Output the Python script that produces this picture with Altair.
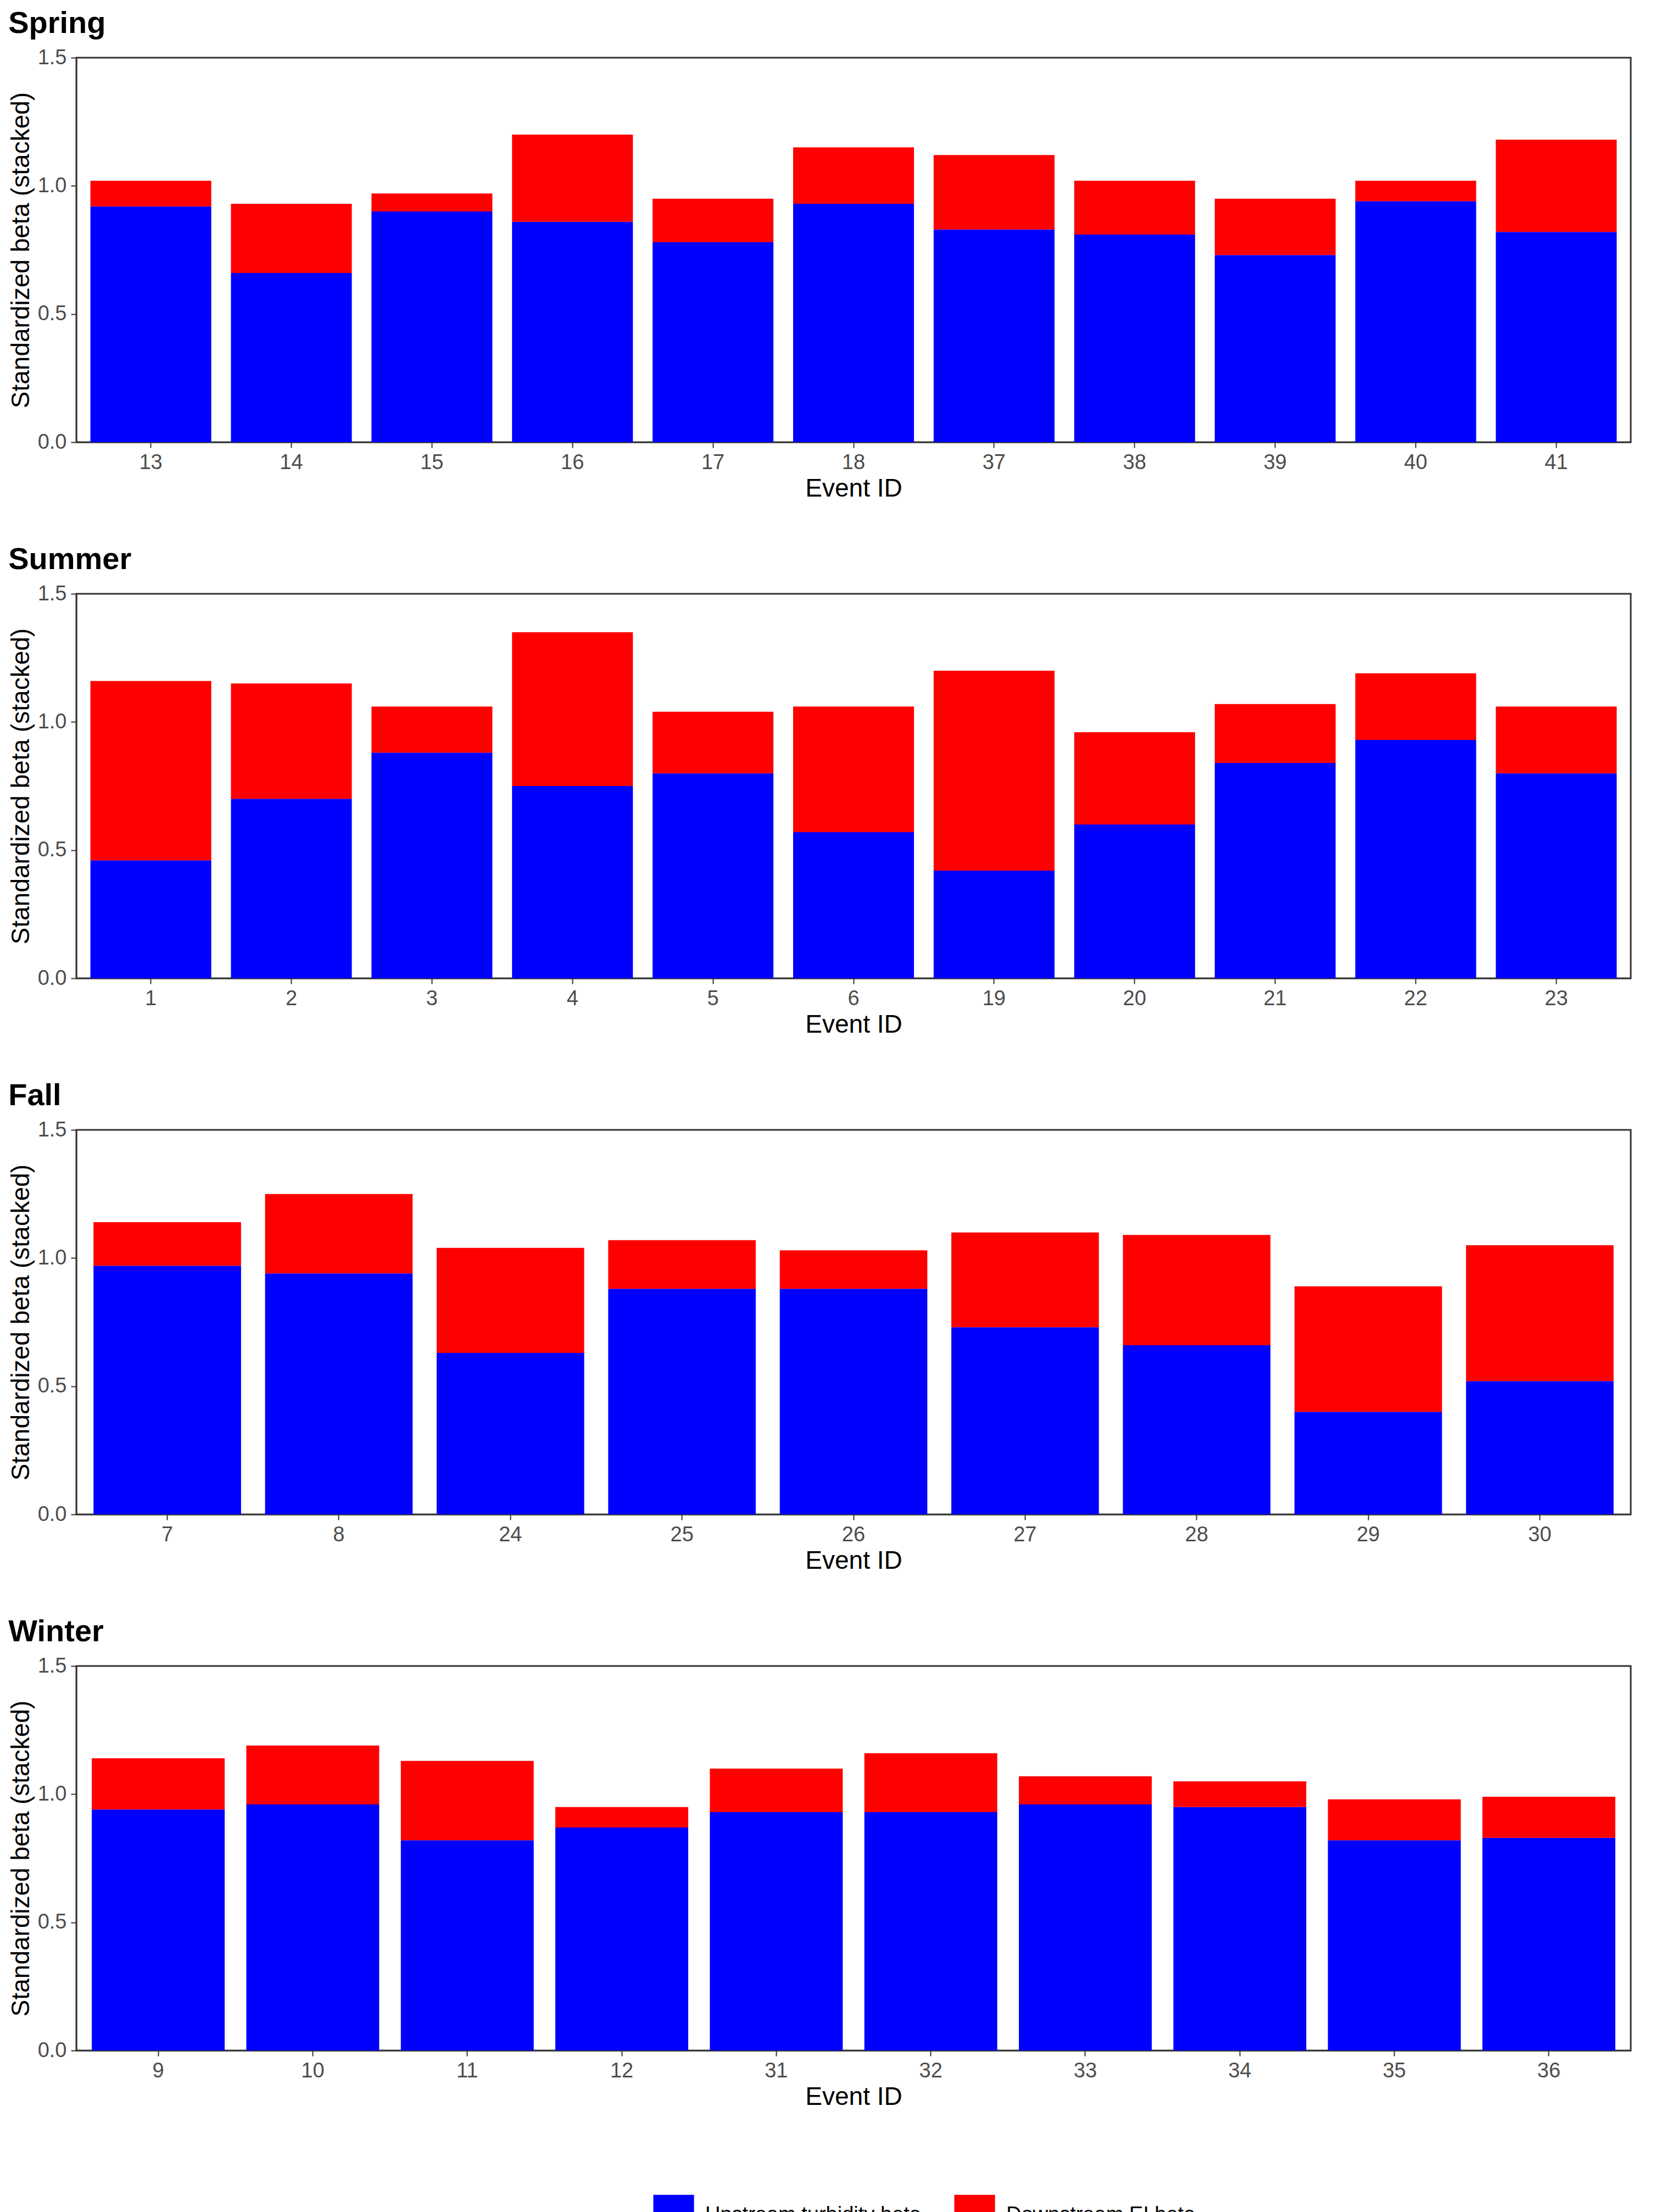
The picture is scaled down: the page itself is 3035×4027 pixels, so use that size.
import altair as alt
import pandas as pd

spring_ids = ["13", "14", "15", "16", "17", "18", "37", "38", "39", "40", "41"]
spring_up = [0.92, 0.66, 0.90, 0.86, 0.78, 0.93, 0.83, 0.81, 0.73, 0.94, 0.82]
spring_down = [0.10, 0.27, 0.07, 0.34, 0.17, 0.22, 0.29, 0.21, 0.22, 0.08, 0.36]

summer_ids = ["1", "2", "3", "4", "5", "6", "19", "20", "21", "22", "23"]
summer_up = [0.46, 0.70, 0.88, 0.75, 0.80, 0.57, 0.42, 0.60, 0.84, 0.93, 0.80]
summer_down = [0.70, 0.45, 0.18, 0.60, 0.24, 0.49, 0.78, 0.36, 0.23, 0.26, 0.26]

fall_ids = ["7", "8", "24", "25", "26", "27", "28", "29", "30"]
fall_up = [0.97, 0.94, 0.63, 0.88, 0.88, 0.73, 0.66, 0.40, 0.52]
fall_down = [0.17, 0.31, 0.41, 0.19, 0.15, 0.37, 0.43, 0.49, 0.53]

winter_ids = ["9", "10", "11", "12", "31", "32", "33", "34", "35", "36"]
winter_up = [0.94, 0.96, 0.82, 0.87, 0.93, 0.93, 0.96, 0.95, 0.82, 0.83]
winter_down = [0.20, 0.23, 0.31, 0.08, 0.17, 0.23, 0.11, 0.10, 0.16, 0.16]

series = ["Upstream turbidity beta", "Downstream EI beta"]
FONT = "Liberation Sans"


def panel(title, ids, up, down):
    rows = []
    for e, u, d in zip(ids, up, down):
        rows.append({"event": e, "beta": u, "series": series[0], "ord": 0})
        rows.append({"event": e, "beta": d, "series": series[1], "ord": 1})
    df = pd.DataFrame(rows)
    return alt.Chart(df).mark_bar().encode(
        x=alt.X("event:N", sort=ids, title="Event ID",
                scale=alt.Scale(paddingInner=0.14, paddingOuter=0.1),
                axis=alt.Axis(labelAngle=0)),
        y=alt.Y("beta:Q", stack="zero", title="Standardized beta (stacked)",
                scale=alt.Scale(domain=[0, 1.5]),
                axis=alt.Axis(values=[0, 0.5, 1.0, 1.5], format=".1f")),
        color=alt.Color("series:N", sort=series, title=None,
                        scale=alt.Scale(domain=series, range=["#0000FF", "#FF0000"]),
                        legend=alt.Legend(orient="none", direction="horizontal",
                                          legendX=1050, legendY=3890)),
        order=alt.Order("ord:Q", sort="ascending"),
    ).properties(
        width=2830, height=700,
        title=alt.TitleParams(title, anchor="start", fontSize=56, fontWeight="bold",
                              font=FONT, color="black", offset=14),
    )


chart = alt.vconcat(
    panel("Spring", spring_ids, spring_up, spring_down),
    panel("Summer", summer_ids, summer_up, summer_down),
    panel("Fall", fall_ids, fall_up, fall_down),
    panel("Winter", winter_ids, winter_up, winter_down),
    spacing=75,
).configure(
    background="white"
).configure_view(
    stroke="#333333", strokeWidth=3
).configure_axis(
    grid=False, labelFont=FONT, titleFont=FONT, labelFontSize=38,
    titleFontSize=46, titleFontWeight="normal", labelColor="#4d4d4d",
    titleColor="black", domainColor="#333333", tickColor="#333333",
    tickSize=10, tickWidth=2, domainWidth=2, labelPadding=8, titlePadding=6,
).configure_legend(
    labelFont=FONT, labelFontSize=38, labelColor="black", symbolType="square",
    symbolSize=5500, symbolStrokeWidth=0, columnPadding=60, labelLimit=800,
    symbolOpacity=1, labelOffset=20,
)

chart.save("out.html", embed_options={"renderer": "svg", "actions": False})
